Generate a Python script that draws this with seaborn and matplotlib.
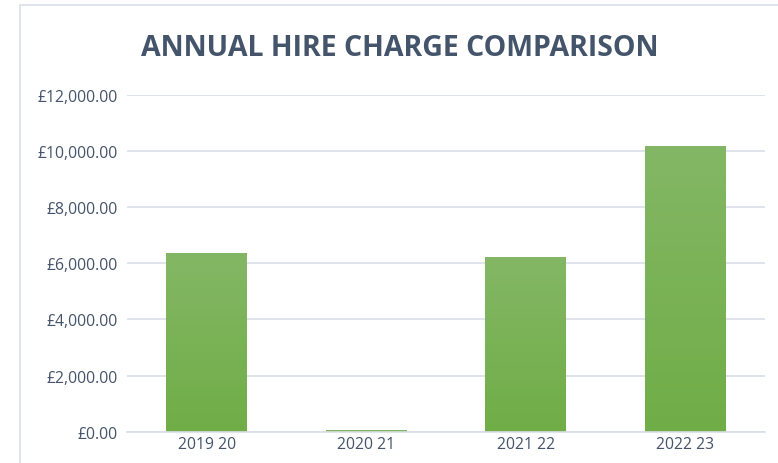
import numpy as np
import pandas as pd
import matplotlib
matplotlib.use("Agg")
import matplotlib.pyplot as plt
import matplotlib.patches as mpatches
from matplotlib.colors import LinearSegmentedColormap
from matplotlib.ticker import FuncFormatter
import seaborn as sns

# Chart data
years = ["2019 20", "2020 21", "2021 22", "2022 23"]
hire_charge = [6360, 45, 6210, 10170]
y_ticks = [0, 2000, 4000, 6000, 8000, 10000, 12000]

df = pd.DataFrame({"Year": years, "Charge": hire_charge})

sns.set_style("white")
plt.rcParams["font.family"] = ["Open Sans", "DejaVu Sans"]

text_col = "#44546A"
grid_col = "#D9DEE7"

fig = plt.figure(figsize=(7.78, 4.64), dpi=100)
ax = fig.add_axes([127 / 778, 31.3 / 464, 638 / 778, 337 / 464])

sns.barplot(data=df, x="Year", y="Charge", ax=ax, color="#70AD47",
            width=0.505, saturation=1, edgecolor="none")

# vertical gradient inside each bar
grad = LinearSegmentedColormap.from_list("g", ["#70AD47", "#84B765"])
for p in ax.patches:
    x0, y0 = p.get_x(), p.get_y()
    w, h = p.get_width(), p.get_height()
    if h <= 0:
        continue
    img = ax.imshow(np.linspace(0, 1, 256).reshape(-1, 1), cmap=grad,
                    extent=[x0, x0 + w, y0, y0 + h], origin="lower",
                    aspect="auto", zorder=p.get_zorder() + 0.1)
    img.set_clip_path(p)

ax.set_xlim(-0.5, 3.5)
ax.set_ylim(0, 12000)
ax.set_yticks(y_ticks)
ax.yaxis.set_major_formatter(FuncFormatter(lambda v, _: f"£{v:,.2f}"))
ax.grid(axis="y", color=grid_col, linewidth=1.2)
ax.set_axisbelow(True)
for s in ["top", "right", "left"]:
    ax.spines[s].set_visible(False)
ax.spines["bottom"].set_color(grid_col)
ax.spines["bottom"].set_linewidth(1.2)
ax.tick_params(axis="both", length=0, labelsize=11.3, colors=text_col, pad=7)
ax.tick_params(axis="x", pad=3)
ax.set_xlabel("")
ax.set_ylabel("")

fig.text(400 / 778, 1 - 48 / 464, "ANNUAL HIRE CHARGE COMPARISON", ha="center",
         va="center", fontsize=20.5, fontweight="bold", color=text_col)

# chart frame (cropped at right and bottom)
fig.patches.append(mpatches.Rectangle((20 / 778, -0.1), 1.2, 1.1 - 6 / 464,
                                      transform=fig.transFigure, fill=False,
                                      edgecolor="#D9DEE7", linewidth=1.2))

fig.savefig("out.png", dpi=100)
